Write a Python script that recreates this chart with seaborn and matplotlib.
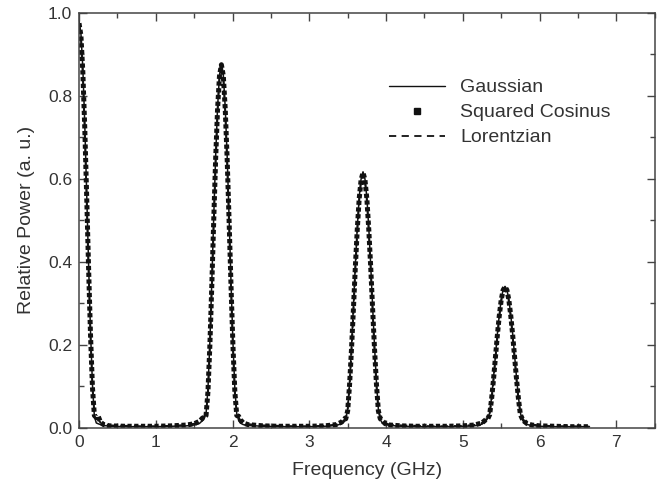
import numpy as np
import pandas as pd
import seaborn as sns
import matplotlib
matplotlib.use("Agg")
import matplotlib.pyplot as plt
from matplotlib.lines import Line2D
from matplotlib.ticker import MultipleLocator, FormatStrFormatter

# ---------------- data ----------------
freq_ghz = [
    0.0, 0.025, 0.05, 0.075, 0.1, 0.125, 0.15, 0.175, 0.2, 0.225, 0.25, 0.28, 0.32,
    0.4, 0.6, 0.8, 1.0, 1.2, 1.4, 1.5, 1.57, 1.61,
    1.63, 1.655, 1.68, 1.705, 1.73, 1.755, 1.78, 1.805, 1.83, 1.855,
    1.88, 1.905, 1.93, 1.955, 1.98, 2.005, 2.03, 2.055, 2.08, 2.1, 2.14, 2.2,
    2.4, 2.6, 2.8, 3.0, 3.2, 3.35, 3.42, 3.46,
    3.475, 3.5, 3.525, 3.55, 3.575, 3.6, 3.625, 3.65, 3.675, 3.7,
    3.725, 3.75, 3.775, 3.8, 3.825, 3.85, 3.875, 3.9, 3.925, 3.95, 3.99, 4.05,
    4.2, 4.4, 4.6, 4.8, 5.0, 5.15, 5.25, 5.3,
    5.325, 5.35, 5.375, 5.4, 5.425, 5.45, 5.475, 5.5, 5.525, 5.55,
    5.575, 5.6, 5.625, 5.65, 5.675, 5.7, 5.725, 5.75, 5.775, 5.8, 5.84, 5.9,
    6.0, 6.2, 6.4, 6.65,
]

squared_cosinus = [
    0.975, 0.945, 0.856, 0.722, 0.557, 0.383, 0.223, 0.098, 0.030, 0.025, 0.028, 0.014, 0.008,
    0.005, 0.004, 0.004, 0.004, 0.005, 0.007, 0.010, 0.016, 0.024,
    0.025, 0.030, 0.088, 0.200, 0.344, 0.500, 0.648, 0.768, 0.848, 0.875,
    0.848, 0.768, 0.648, 0.500, 0.344, 0.200, 0.088, 0.030, 0.028, 0.020, 0.012, 0.008,
    0.005, 0.004, 0.004, 0.004, 0.005, 0.008, 0.014, 0.022,
    0.022, 0.041, 0.105, 0.190, 0.287, 0.388, 0.478, 0.552, 0.598, 0.615,
    0.598, 0.552, 0.478, 0.388, 0.287, 0.190, 0.105, 0.041, 0.022, 0.018, 0.010, 0.007,
    0.005, 0.004, 0.004, 0.004, 0.005, 0.007, 0.012, 0.020,
    0.022, 0.032, 0.070, 0.117, 0.170, 0.223, 0.270, 0.308, 0.332, 0.340,
    0.332, 0.308, 0.270, 0.223, 0.170, 0.117, 0.070, 0.032, 0.022, 0.016, 0.010, 0.007,
    0.005, 0.004, 0.003, 0.003,
]

gaussian = [
    0.980, 0.950, 0.866, 0.732, 0.565, 0.392, 0.232, 0.105, 0.028, 0.012, 0.010, 0.008, 0.006,
    0.004, 0.003, 0.003, 0.003, 0.004, 0.005, 0.007, 0.011, 0.018,
    0.022, 0.034, 0.095, 0.208, 0.352, 0.508, 0.655, 0.772, 0.850, 0.878,
    0.850, 0.772, 0.655, 0.508, 0.352, 0.208, 0.095, 0.034, 0.018, 0.012, 0.008, 0.006,
    0.004, 0.003, 0.003, 0.003, 0.004, 0.006, 0.010, 0.016,
    0.020, 0.045, 0.110, 0.196, 0.293, 0.393, 0.482, 0.555, 0.600, 0.617,
    0.600, 0.555, 0.482, 0.393, 0.293, 0.196, 0.110, 0.045, 0.020, 0.012, 0.008, 0.006,
    0.004, 0.003, 0.003, 0.003, 0.004, 0.005, 0.009, 0.016,
    0.024, 0.036, 0.074, 0.121, 0.174, 0.226, 0.272, 0.309, 0.333, 0.341,
    0.333, 0.309, 0.272, 0.226, 0.174, 0.121, 0.074, 0.036, 0.020, 0.012, 0.008, 0.006,
    0.004, 0.003, 0.003, 0.003,
]

lorentzian = [
    0.975, 0.940, 0.848, 0.712, 0.548, 0.376, 0.218, 0.098, 0.036, 0.026, 0.020, 0.013, 0.009,
    0.006, 0.005, 0.004, 0.004, 0.005, 0.007, 0.010, 0.015, 0.022,
    0.028, 0.036, 0.085, 0.194, 0.336, 0.490, 0.638, 0.760, 0.842, 0.872,
    0.842, 0.760, 0.638, 0.490, 0.336, 0.194, 0.085, 0.036, 0.026, 0.018, 0.012, 0.009,
    0.006, 0.005, 0.004, 0.004, 0.005, 0.008, 0.013, 0.020,
    0.025, 0.044, 0.101, 0.185, 0.281, 0.382, 0.473, 0.548, 0.596, 0.613,
    0.596, 0.548, 0.473, 0.382, 0.281, 0.185, 0.101, 0.044, 0.025, 0.018, 0.011, 0.008,
    0.006, 0.005, 0.004, 0.004, 0.005, 0.007, 0.012, 0.020,
    0.025, 0.035, 0.068, 0.114, 0.166, 0.219, 0.266, 0.305, 0.330, 0.338,
    0.330, 0.305, 0.266, 0.219, 0.166, 0.114, 0.068, 0.035, 0.024, 0.017, 0.011, 0.008,
    0.006, 0.004, 0.004, 0.003,
]

legend_labels = ["Gaussian", "Squared Cosinus", "Lorentzian"]

# ---------------- style ----------------
sns.set_theme(style="ticks")
plt.rcParams["font.family"] = ["Liberation Sans", "DejaVu Sans"]
text_col = "#333333"
plt.rcParams.update({
    "text.color": text_col,
    "axes.labelcolor": text_col,
    "xtick.color": text_col,
    "ytick.color": text_col,
    "axes.edgecolor": "#444444",
})

df = pd.DataFrame({"freq": freq_ghz, "sqcos": squared_cosinus,
                   "gauss": gaussian, "lor": lorentzian})

fig = plt.figure(figsize=(6.64, 4.93), dpi=100)
ax = fig.add_axes([0.119, 0.132, 0.867, 0.842])

# squared cosinus: dense train of small squares (thick dotted line)
sns.lineplot(data=df, x="freq", y="sqcos", ax=ax, color="#111111", lw=3.6,
             sort=False, estimator=None)
ax.lines[-1].set_dashes([0.85, 0.5])
ax.lines[-1].set_dash_capstyle("butt")

sns.lineplot(data=df, x="freq", y="lor", ax=ax, color="#111111", lw=1.4,
             sort=False, estimator=None)
ax.lines[-1].set_dashes([4, 3])

sns.lineplot(data=df, x="freq", y="gauss", ax=ax, color="#111111", lw=1.1,
             sort=False, estimator=None)

ax.set_xlim(0, 7.5)
ax.set_ylim(0, 1.0)
ax.xaxis.set_major_locator(MultipleLocator(1))
ax.xaxis.set_minor_locator(MultipleLocator(0.5))
ax.yaxis.set_major_locator(MultipleLocator(0.2))
ax.yaxis.set_minor_locator(MultipleLocator(0.1))
ax.yaxis.set_major_formatter(FormatStrFormatter("%.1f"))
ax.tick_params(which="both", direction="in", top=True, right=True,
               labelsize=12.5, width=1.0, colors="#444444", labelcolor=text_col)
ax.tick_params(which="major", length=6, pad=5)
ax.tick_params(which="minor", length=3.5)
for s in ax.spines.values():
    s.set_linewidth(1.1)

ax.set_xlabel("Frequency (GHz)", fontsize=14, labelpad=9)
ax.set_ylabel("Relative Power (a. u.)", fontsize=14, labelpad=9)

handles = [
    Line2D([], [], color="#111111", lw=1.0),
    Line2D([], [], color="#111111", lw=0, marker="s", markersize=4),
    Line2D([], [], color="#111111", lw=1.3, dashes=[4, 3]),
]
ax.legend(handles, legend_labels, loc="upper left",
          bbox_to_anchor=(0.525, 0.86), frameon=False, fontsize=14,
          handlelength=2.9, handletextpad=0.75, labelspacing=0.38,
          borderaxespad=0)

fig.savefig("out.png", dpi=100)
